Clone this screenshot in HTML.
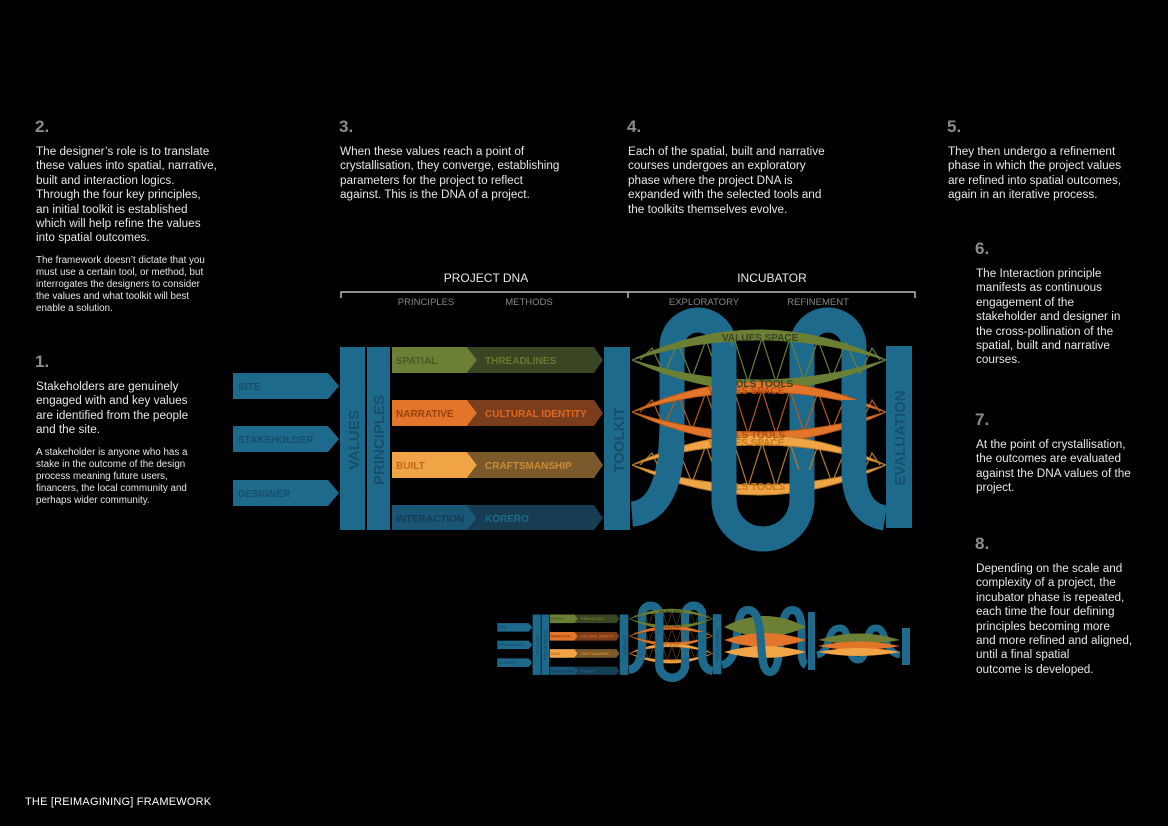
<!DOCTYPE html>
<html><head><meta charset="utf-8">
<style>
body{margin:0;background:#000;width:1168px;height:826px;overflow:hidden;position:relative;font-family:"Liberation Sans",Arial,sans-serif;color:#e8e8e8}
.t{position:absolute;font-size:11.75px;line-height:14.4px;white-space:nowrap}
.s{position:absolute;font-size:9.8px;line-height:12px;white-space:nowrap}
.h{position:absolute;font-size:17px;font-weight:bold;color:#8c8c8c;line-height:20px}
svg{position:absolute;left:0;top:0}
</style></head><body>
<div class="h" style="left:35px;top:117px">2.</div>
<div class="t" style="left:36px;top:145px">The designer’s role is to translate<br>these values into spatial, narrative,<br>built and interaction logics.<br>Through the four key principles,<br>an initial toolkit is established<br>which will help refine the values<br>into spatial outcomes.</div>
<div class="s" style="left:36px;top:255px">The framework doesn’t dictate that you<br>must use a certain tool, or method, but<br>interrogates the designers to consider<br>the values and what toolkit will best<br>enable a solution.</div>
<div class="h" style="left:35px;top:352px">1.</div>
<div class="t" style="left:36px;top:380px">Stakeholders are genuinely<br>engaged with and key values<br>are identified from the people<br>and the site.</div>
<div class="s" style="left:36px;top:447px">A stakeholder is anyone who has a<br>stake in the outcome of the design<br>process meaning future users,<br>financers, the local community and<br>perhaps wider community.</div>
<div class="h" style="left:339px;top:117px">3.</div>
<div class="t" style="left:340px;top:145px">When these values reach a point of<br>crystallisation, they converge, establishing<br>parameters for the project to reflect<br>against. This is the DNA of a project.</div>
<div class="h" style="left:627px;top:117px">4.</div>
<div class="t" style="left:628px;top:145px">Each of the spatial, built and narrative<br>courses undergoes an exploratory<br>phase where the project DNA is<br>expanded with the selected tools and<br>the toolkits themselves evolve.</div>
<div class="h" style="left:947px;top:117px">5.</div>
<div class="t" style="left:948px;top:145px">They then undergo a refinement<br>phase in which the project values<br>are refined into spatial outcomes,<br>again in an iterative process.</div>
<div class="h" style="left:975px;top:239px">6.</div>
<div class="t" style="left:976px;top:267px">The Interaction principle<br>manifests as continuous<br>engagement of the<br>stakeholder and designer in<br>the cross-pollination of the<br>spatial, built and narrative<br>courses.</div>
<div class="h" style="left:975px;top:410px">7.</div>
<div class="t" style="left:976px;top:438px">At the point of crystallisation,<br>the outcomes are evaluated<br>against the DNA values of the<br>project.</div>
<div class="h" style="left:975px;top:534px">8.</div>
<div class="t" style="left:976px;top:562px">Depending on the scale and<br>complexity of a project, the<br>incubator phase is repeated,<br>each time the four defining<br>principles becoming more<br>and more refined and aligned,<br>until a final spatial<br>outcome is developed.</div>
<div style="position:absolute;left:25px;top:796px;font-size:11px;color:#fff;letter-spacing:0.2px">THE [REIMAGINING] FRAMEWORK</div>

<svg width="1168" height="826" viewBox="0 0 1168 826" font-family="Liberation Sans, Arial, sans-serif">
<text x="486" y="282" fill="#e8e8e8" font-size="12" text-anchor="middle">PROJECT DNA</text>
<text x="772" y="282" fill="#e8e8e8" font-size="12" text-anchor="middle">INCUBATOR</text>
<path d="M341,298 V292 H915 V298 M628,292 V298" stroke="#bbb" stroke-width="1.5" fill="none"/>
<g fill="#888" font-size="9.5" text-anchor="middle">
<text x="426" y="305">PRINCIPLES</text><text x="529" y="305">METHODS</text>
<text x="704" y="305">EXPLORATORY</text><text x="818" y="305">REFINEMENT</text>
</g>

<g id="main">
<g fill="#1d6a8c">
<path d="M233,373 H328 L339,386 L328,399 H233Z"/>
<path d="M233,426 H328 L339,439 L328,452 H233Z"/>
<path d="M233,480 H328 L339,493 L328,506 H233Z"/>
</g>
<g fill="#174f6c" font-size="10" font-weight="bold">
<text x="238" y="390">SITE</text><text x="238" y="443">STAKEHOLDER</text><text x="238" y="497">DESIGNER</text>
</g>
<rect x="340" y="347" width="25" height="183" fill="#1d6a8c"/>
<rect x="367" y="347" width="23" height="183" fill="#1d6a8c"/>
<text transform="translate(359,440) rotate(-90)" text-anchor="middle" fill="#174f6c" font-size="15" font-weight="bold">VALUES</text>
<text transform="translate(384,440) rotate(-90)" text-anchor="middle" fill="#174f6c" font-size="15" font-weight="bold">PRINCIPLES</text>
<path d="M392,347 H467 L477,360 L467,373 H392Z" fill="#6b7f35"/>
<path d="M467,347 H594 L603,360 L594,373 H467 L477,360Z" fill="#3a4523"/>
<path d="M392,400 H467 L477,413 L467,426 H392Z" fill="#e2752a"/>
<path d="M467,400 H594 L603,413 L594,426 H467 L477,413Z" fill="#7a3e1c"/>
<path d="M392,452 H467 L477,465 L467,478 H392Z" fill="#f0a445"/>
<path d="M467,452 H594 L603,465 L594,478 H467 L477,465Z" fill="#7a5a2a"/>
<path d="M392,505 H467 L477,518 L467,530 H392Z" fill="#1a5675"/>
<path d="M467,505 H594 L603,518 L594,530 H467 L477,518Z" fill="#163d52"/>
<g font-size="10" font-weight="bold">
<text x="396" y="364" fill="#4a5a25">SPATIAL</text><text x="485" y="364" fill="#66792f">THREADLINES</text>
<text x="396" y="417" fill="#9c4010">NARRATIVE</text><text x="485" y="417" fill="#e0661f">CULTURAL IDENTITY</text>
<text x="396" y="469" fill="#c4671a">BUILT</text><text x="485" y="469" fill="#c98a3a">CRAFTSMANSHIP</text>
<text x="396" y="522" fill="#123e55">INTERACTION</text><text x="485" y="522" fill="#1d6a8c">KORERO</text>
</g>
<rect x="604" y="347" width="26" height="183" fill="#1d6a8c"/>
<text transform="translate(624,440) rotate(-90)" text-anchor="middle" fill="#174f6c" font-size="15" font-weight="bold">TOOLKIT</text>
<rect x="886" y="346" width="26" height="182" fill="#1d6a8c"/>
<text transform="translate(905,438) rotate(-90)" text-anchor="middle" fill="#174f6c" font-size="15" font-weight="bold">EVALUATION</text>

<path d="M632,514 C660,512 672,480 672,420 V346 A26,26 0 0 1 724,346 V500 A39,39 0 0 0 802,500 V346 A26,26 0 0 1 854,346 V470 C854,500 866,515 885,518" fill="none" stroke="#1d6a8c" stroke-width="25"/>
<g id="strand">
<path fill="none" stroke-width="1.2" d="M640,360 L652,348 L664,374 L678,343 L692,378 L706,340 L720,380 L734,338 L748,382 L762,338 L776,382 L790,338 L804,380 L818,340 L832,378 L846,343 L860,374 L872,348 L880,360"/>
<path d="M632,360 Q758,300 886,360 Q758,320 632,360Z"/>
<path d="M632,360 Q758,420 886,360 Q758,400 632,360Z"/>
</g>
<use href="#strand" fill="#6b7f35" stroke="#6b7f35"/>
<use href="#strand" y="52" fill="#e2752a" stroke="#b85a1c"/>
<use href="#strand" y="105" fill="#f0a445" stroke="#b67a2a"/>
<g font-size="10" font-weight="bold">
<text x="722" y="341" fill="#3a4523">VALUES  SPACE</text><text x="722" y="387" fill="#3a4523">TOOLS  TOOLS</text>
<text x="708" y="394" fill="#b84a10">VALUES  SPACE</text><text x="714" y="438" fill="#b84a10">TOOLS  TOOLS</text>
<text x="708" y="446" fill="#c4781a">VALUES  SPACE</text><text x="714" y="490" fill="#c4781a">TOOLS  TOOLS</text>
</g>
<path d="M724,346 V500 A39,39 0 0 0 802,500 V470" fill="none" stroke="#1d6a8c" stroke-width="25"/>
<path d="M632,514 C660,512 672,480 672,440" fill="none" stroke="#1d6a8c" stroke-width="25"/>
<path d="M854,400 V470 C854,500 866,515 885,518" fill="none" stroke="#1d6a8c" stroke-width="25"/>
</g>

<use href="#main" transform="translate(420.4,500) scale(0.33)"/>
<path d="M722,665 C745,660 730,610 748,610 C768,610 755,672 770,672 C785,672 775,610 792,610 C810,610 795,660 806,665" fill="none" stroke="#1d6a8c" stroke-width="8"/>
<path d="M724,627 Q764,605 806,627 Q764,646 724,627Z" fill="#6b7f35"/>
<path d="M724,640 Q764,626 806,640 Q764,654 724,640Z" fill="#e2752a"/>
<path d="M724,652 Q764,640 806,652 Q764,664 724,652Z" fill="#f0a445"/>
<path d="M748,610 C768,610 755,672 770,672" fill="none" stroke="#1d6a8c" stroke-width="8"/>
<rect x="808" y="612" width="7" height="58" fill="#1d6a8c"/>
<path d="M817,655 C832,652 825,628 840,628 C852,628 845,660 858,660 C870,660 862,628 876,628 C888,628 882,652 900,655" fill="none" stroke="#1d6a8c" stroke-width="7"/>
<path d="M818,640 Q858,627 900,640 Q858,648 818,640Z" fill="#6b7f35"/>
<path d="M818,646 Q858,637 900,646 Q858,654 818,646Z" fill="#e2752a"/>
<path d="M818,652 Q858,644 900,652 Q858,660 818,652Z" fill="#f0a445"/>
<rect x="902" y="628" width="8" height="37" fill="#1d6a8c"/>
</svg>
</body></html>
